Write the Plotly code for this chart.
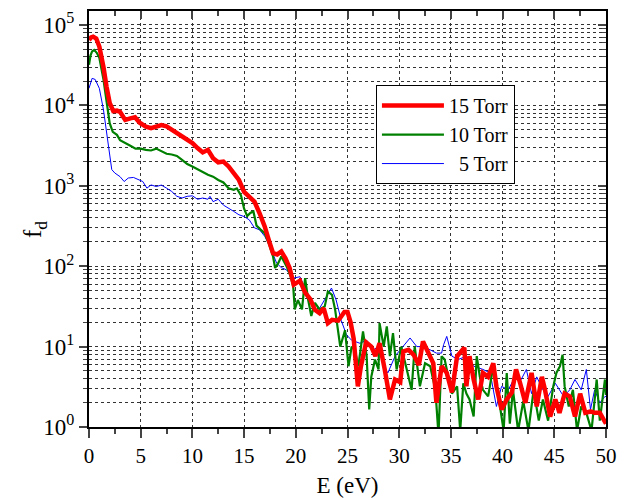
import plotly.graph_objects as go

# ---- data ----
E_15 = [0, 0.2, 0.4, 0.7, 1.0, 1.2, 1.4, 1.7, 2.0, 2.35, 2.7, 3.0, 3.5, 4.0, 4.45, 4.9, 5.5, 6.0, 6.5, 7.0,
        7.5, 8.0, 8.5, 9.0, 9.5, 10.0, 10.5, 11.0, 11.5, 12.0, 12.5, 13.0, 13.5, 14.0, 14.5, 15.0, 15.5, 16.0,
        16.5, 17.0, 17.5, 17.8, 18.2, 18.6, 19.0, 19.4, 19.8, 20.4, 20.9, 21.4, 21.85, 22.3, 22.7, 23.1, 23.5,
        24.1, 24.7, 25.0, 25.3, 25.6, 26.0, 26.3, 26.8, 27.3, 27.7, 28.1, 28.6, 29.1, 29.6, 30.1, 30.4, 30.9,
        31.4, 31.9, 32.3, 32.8, 33.3, 33.6, 34.1, 34.6, 35.1, 35.6, 36.3, 36.5, 36.8, 37.2, 37.65, 38.1, 38.6,
        39.1, 39.4, 39.9, 40.4, 40.9, 41.3, 41.7, 42.2, 42.8, 43.3, 43.8, 44.1, 44.6, 45.1, 45.5, 46.0, 46.5,
        47.0, 47.5, 48.0, 48.5, 48.9, 49.4, 49.9, 50.0]
f_15 = [65000, 70000, 71600, 68000, 54000, 42000, 30000, 17000, 10700, 8500, 8600, 8300, 6600, 6900, 7100,
        6100, 5450, 5200, 5400, 5700, 5500, 5000, 4400, 4100, 3700, 3400, 2950, 2600, 2800, 2200, 1960, 2000,
        1740, 1440, 1180, 840, 740, 635, 455, 310, 190, 145, 140, 152, 125, 95, 59, 66, 47, 39, 28.7, 26, 30,
        19.6, 21.5, 21, 27, 27, 20, 12.5, 3.2, 5.7, 11.3, 10, 7.6, 11, 5.2, 2.2, 3.9, 3.6, 8.7, 9.1, 7.9, 5.9,
        11.6, 8.7, 6.2, 2.0, 5.7, 4.7, 2.7, 7.6, 9.7, 3.2, 7.6, 3.9, 2.2, 4.7, 4.2, 6.2, 3.2, 1.65, 2.2, 2.7,
        5.2, 3.5, 2.0, 4.7, 1.8, 4.2, 2.9, 1.35, 2.2, 1.5, 2.6, 2.4, 1.35, 2.6, 1.5, 1.56, 1.5, 1.5, 1.12, 1.1]

E_10 = [0, 0.15, 0.3, 0.5, 0.75, 1.0, 1.4, 1.7, 2.0, 2.3, 2.7, 3.0, 3.5, 4.0, 4.5, 5.0, 5.5, 6.0, 6.5, 7.0,
        7.5, 8.0, 8.5, 9.0, 9.5, 10.0, 10.5, 11.0, 11.5, 12.0, 12.5, 13.0, 13.5, 14.0, 14.3, 14.7, 15.0, 15.3,
        15.6, 15.9, 16.2, 16.6, 17.0, 17.4, 17.8, 18.0, 18.3, 18.6, 19.1, 19.5, 19.75, 19.9, 20.2, 20.6, 20.9,
        21.2, 21.5, 21.85, 22.3, 22.8, 23.1, 23.5, 23.8, 24.3, 24.76, 25.1, 25.4, 25.7, 26.05, 26.5, 26.85,
        27.1, 27.3, 27.66, 28.0, 28.1, 28.5, 28.8, 29.1, 29.4, 29.75, 30.2, 30.7, 31.2, 31.5, 32.0, 32.5, 33.0,
        33.5, 33.8, 34.1, 34.4, 34.75, 35.1, 35.6, 35.9, 36.2, 36.5, 36.8, 37.2, 37.5, 37.8, 38.1, 38.6, 39.1,
        39.4, 39.75, 40.1, 40.4, 40.7, 41.0, 41.5, 42.0, 42.5, 43.0, 43.5, 43.9, 44.4, 44.9, 45.2, 45.55, 45.8,
        46.0, 46.4, 46.8, 47.2, 47.6, 48.1, 48.6, 49.1, 49.4, 49.9, 50.0]
f_10 = [32000, 42000, 47000, 49000, 45000, 39000, 21000, 11800, 6000, 4700, 4300, 3700, 3450, 3150, 2900,
        2900, 2800, 2750, 2900, 2700, 2500, 2450, 2350, 2100, 1860, 1740, 1610, 1510, 1370, 1300, 1180, 1100,
        930, 890, 930, 760, 520, 420, 460, 480, 320, 285, 255, 190, 132, 95, 109, 132, 100, 75, 56, 29, 38, 29,
        71, 38, 24, 35, 29, 31.6, 48.5, 44, 29, 10, 16, 5.7, 10, 9.1, 5.7, 15.5, 7.6, 1.65, 4.2, 6.9, 5.2,
        19.6, 10, 17.8, 7.6, 14.7, 5.2, 10, 5.2, 2.9, 10, 3.2, 6.2, 5.7, 2.9, 0.8, 7.6, 6.9, 4.2, 2.6, 3.2,
        0.9, 3.5, 2.6, 2.2, 1.35, 7.6, 4.2, 2.9, 2.4, 5.7, 3.5, 1.8, 0.9, 4.7, 1.1, 2.9, 0.9, 2.1, 0.9, 2.9,
        1.2, 2.2, 1.2, 3.2, 4.7, 5.7, 7.9, 3.2, 1.8, 2.9, 0.9, 1.8, 1.5, 0.9, 3.9, 1.2, 3.9, 2.5]

E_5 = [0, 0.15, 0.3, 0.6, 1.0, 1.4, 1.7, 2.0, 2.2, 2.5, 3.0, 3.4, 3.8, 4.3, 4.8, 5.2, 5.6, 6.0, 6.5, 7.0,
       7.5, 8.0, 8.5, 9.0, 9.5, 10.0, 10.5, 11.0, 11.5, 11.7, 12.0, 12.5, 13.0, 13.5, 14.0, 14.5, 15.0, 15.5,
       16.0, 16.5, 17.0, 17.5, 18.15, 18.6, 19.1, 19.75, 20.4, 21.05, 21.7, 22.3, 22.97, 23.45, 23.9, 24.4,
       24.9, 25.4, 26.2, 26.85, 27.5, 28.0, 28.5, 28.9, 29.6, 30.4, 31.05, 31.7, 32.3, 33.0, 33.6, 34.1, 34.3,
       34.6, 35.1, 35.7, 36.5, 37.2, 38.1, 38.8, 39.4, 39.9, 40.55, 41.2, 41.8, 42.3, 42.8, 43.3, 43.9, 44.4,
       45.1, 45.9, 46.5, 47.0, 47.6, 48.1, 48.5, 48.9, 49.4, 49.9, 50.0]
f_5 = [16300, 19500, 21700, 21000, 16300, 8800, 4500, 2300, 1590, 1440, 1300, 1130, 1250, 1270, 1180, 1130,
       935, 1025, 980, 1020, 935, 850, 740, 705, 740, 750, 680, 705, 680, 740, 635, 680, 575, 530, 480, 436,
       415, 377, 300, 283, 235, 176, 109, 96, 90, 71, 74, 48, 35, 30, 42, 53.5, 38, 21, 14, 12, 11, 12, 9.1,
       10, 5.7, 4.7, 7.6, 10, 12.8, 10, 10, 9.1, 8.3, 8.3, 10.6, 13.4, 7.6, 6.9, 7.6, 5.7, 5.2, 4.7, 1.8, 3.2,
       2.9, 4.2, 3.9, 5.2, 2.6, 4.2, 2.9, 2.4, 3.5, 2.4, 2.9, 3.9, 2.9, 5.2, 1.65, 2.9, 2.0, 2.4, 2.4]

series_names = ["15 Torr", "10 Torr", "\u20075 Torr"]

y_tickvals = [1, 10, 100, 1000, 10000, 100000]
y_ticktext = ["10<sup>0</sup>", "10<sup>1</sup>", "10<sup>2</sup>", "10<sup>3</sup>",
              "10<sup>4</sup>", "10<sup>5</sup>"]

FONT = "Liberation Serif"
XR = [0, 50]
YR = [0, 5.174]

fig = go.Figure()
fig.add_trace(go.Scatter(x=E_5, y=f_5, mode="lines", name=series_names[2],
                         line=dict(color="#0000FF", width=1)))
fig.add_trace(go.Scatter(x=E_10, y=f_10, mode="lines", name=series_names[1],
                         line=dict(color="#008000", width=2.2)))
fig.add_trace(go.Scatter(x=E_15, y=f_15, mode="lines", name=series_names[0],
                         line=dict(color="#FF0000", width=4.5)))
# dummy trace so the mirrored (top / right) axes are drawn
fig.add_trace(go.Scatter(x=[None], y=[None], xaxis="x2", yaxis="y2", showlegend=False, hoverinfo="skip"))

grid = dict(showgrid=True, gridcolor="#333", gridwidth=1, griddash="dot")

fig.update_layout(
    width=625, height=498,
    margin=dict(l=89, r=19, t=11, b=71, autoexpand=False),
    paper_bgcolor="white", plot_bgcolor="white",
    font=dict(family=FONT, color="black"),
    showlegend=True,
    legend=dict(x=0.555, y=0.822, xanchor="left", yanchor="top",
                bgcolor="white", bordercolor="black", borderwidth=1,
                font=dict(family=FONT, size=20, color="black"),
                traceorder="reversed", itemwidth=62, tracegroupgap=0),
    xaxis=dict(range=XR, dtick=5, tick0=0, ticks="outside", ticklen=9, tickwidth=1.5,
               showline=True, linewidth=2, linecolor="black", mirror=True, zeroline=False,
               automargin=False, tickfont=dict(family=FONT, size=21),
               minor=dict(dtick=2.5, ticks="outside", ticklen=5, tickwidth=1.5, showgrid=False),
               title=dict(text="E (eV)", font=dict(family=FONT, size=23), standoff=16),
               **grid),
    yaxis=dict(type="log", range=YR, tickmode="array", tickvals=y_tickvals, ticktext=y_ticktext,
               ticks="outside", ticklen=8, tickwidth=1.5,
               showline=True, linewidth=2, linecolor="black", mirror=True,
               zeroline=False, automargin=False, tickfont=dict(family=FONT, size=23),
               minor=dict(dtick="D1", ticks="outside", ticklen=4, tickwidth=1.2,
                          showgrid=True, gridcolor="#333", gridwidth=1, griddash="dot"),
               **grid),
    xaxis2=dict(overlaying="x", side="top", range=XR, dtick=5, tick0=0, ticks="inside", ticklen=8,
                tickwidth=1.5, showticklabels=False, showgrid=False, zeroline=False, automargin=False,
                minor=dict(dtick=2.5, ticks="inside", ticklen=5, tickwidth=1.5, showgrid=False)),
    yaxis2=dict(overlaying="y", side="right", type="log", range=YR, dtick=1, ticks="inside",
                ticklen=8, tickwidth=1.5, showticklabels=False, showgrid=False, zeroline=False,
                automargin=False,
                minor=dict(dtick="D1", ticks="inside", ticklen=4, tickwidth=1.2, showgrid=False)),
    annotations=[dict(text="f<sub>d</sub>", xref="paper", yref="paper", x=-0.104, y=0.474,
                      xanchor="center", yanchor="middle", textangle=-90, showarrow=False,
                      font=dict(family=FONT, size=25, color="black"))],
)

fig.write_html("out.html")
